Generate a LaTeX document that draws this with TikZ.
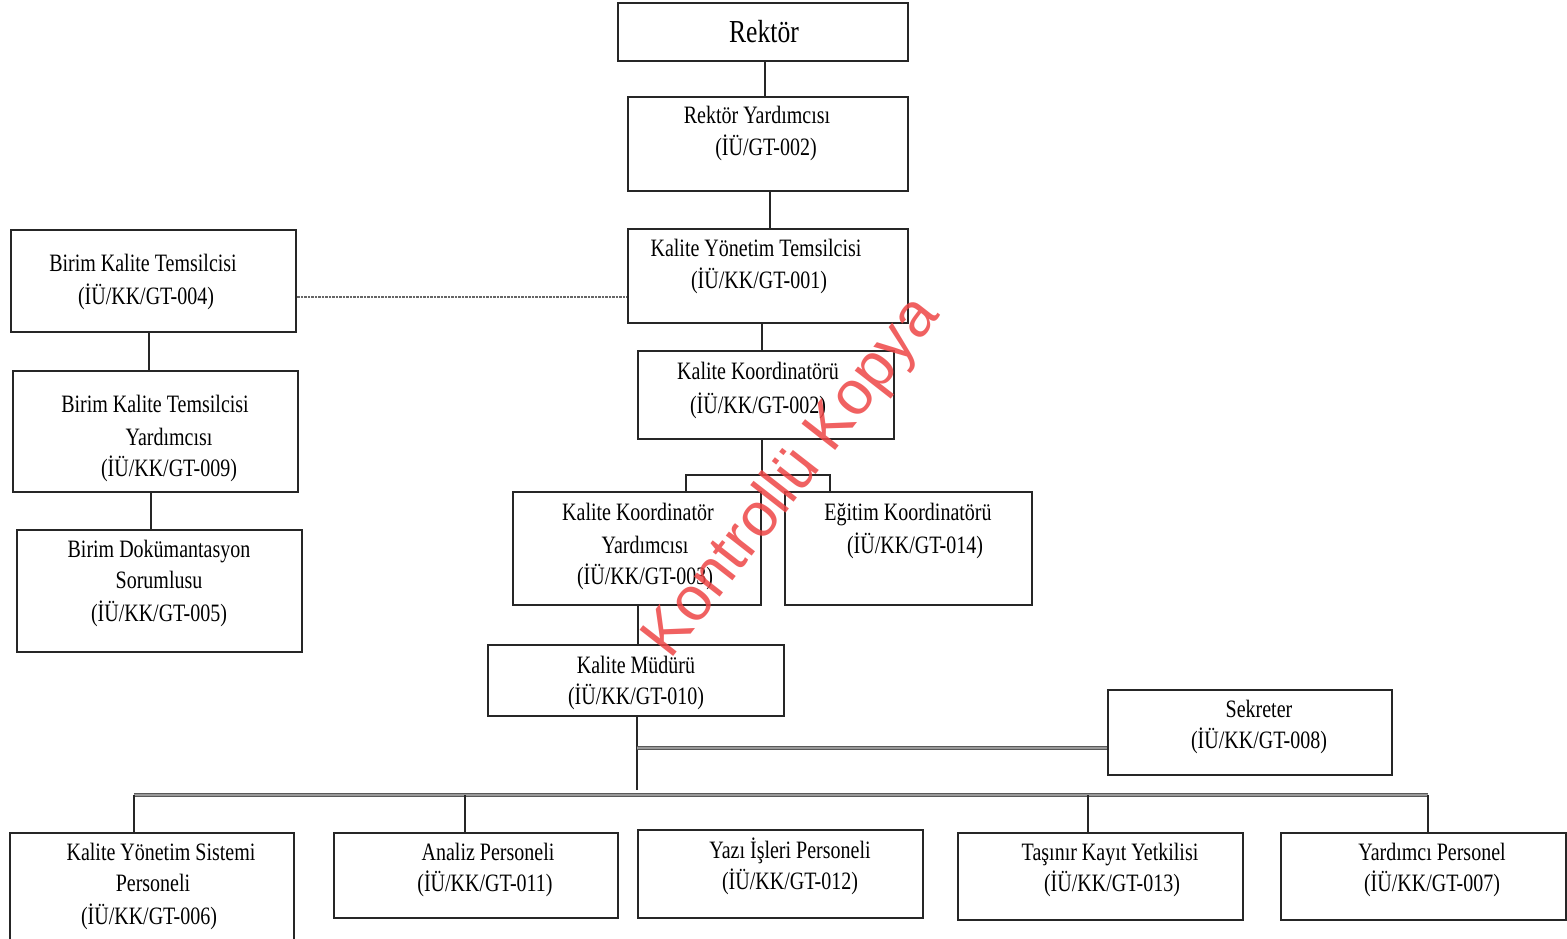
\documentclass[tikz,border=0pt]{standalone}
\usepackage{fontspec}
\setmainfont{Liberation Serif}[FakeStretch=0.8]
\newfontfamily\wmfont{Liberation Sans}
\usetikzlibrary{fit}
\definecolor{wmred}{RGB}{238,70,70}
\tikzset{
  box/.style={draw=black!85, line width=2.6pt, inner sep=0pt, fit={#1}},
  tx/.style={anchor=base, inner sep=0pt, font=\fontsize{25}{30}\selectfont},
  txbig/.style={anchor=base, inner sep=0pt, font=\fontsize{32}{38}\selectfont},
  con/.style={draw=black!85, line width=1.5pt},
  dashcon/.style={draw=black!60, line width=2.6pt, dash pattern=on 2.5pt off 1pt},
  thickcon/.style={draw=black!65, line width=1pt, double=black!40, double distance=2pt},
}
\newcommand\bx[5]{\node[box={(#2,#3) (#4,#5)}] (#1) {};}
\newcommand\tl[4]{\node[tx] (#1) at (#2,#3+8) {#4};}
\begin{document}
\begin{tikzpicture}[x=1pt,y=-1pt]
\useasboundingbox (0,0) rectangle (1567,939);
\fill[white] (0,0) rectangle (1567,939);
% boxes
\bx{rek}{618}{3}{908}{61}
\bx{ry}{628}{97}{908}{191}
\bx{kyt}{628}{229}{908}{323}
\bx{bkt}{11}{230}{296}{332}
\bx{bkty}{13}{371}{298}{492}
\bx{bds}{17}{530}{302}{652}
\bx{kk}{638}{351}{894}{439}
\bx{kky}{513}{492}{761}{605}
\bx{ek}{785}{492}{1032}{605}
\bx{km}{488}{645}{784}{716}
\bx{sek}{1108}{690}{1392}{775}
\bx{kysp}{10}{833}{294}{960}
\bx{ap}{334}{833}{618}{918}
\bx{yip}{638}{830}{923}{918}
\bx{tky}{958}{833}{1243}{920}
\bx{yp}{1281}{833}{1566}{920}
% texts
\node[txbig] (t-rek) at (764,43) {Rektör};
\tl{t-ry1}{757}{116}{Rektör Yardımcısı}
\tl{t-ry2}{766}{148}{(İÜ/GT-002)}
\tl{t-kyt1}{756}{248}{Kalite Yönetim Temsilcisi}
\tl{t-kyt2}{759}{280}{(İÜ/KK/GT-001)}
\tl{t-bkt1}{143}{263}{Birim Kalite Temsilcisi}
\tl{t-bkt2}{146}{296}{(İÜ/KK/GT-004)}
\tl{t-bkty1}{155}{404}{Birim Kalite Temsilcisi}
\tl{t-bkty2}{169}{437}{Yardımcısı}
\tl{t-bkty3}{169}{468}{(İÜ/KK/GT-009)}
\tl{t-bds1}{159}{549}{Birim Dokümantasyon}
\tl{t-bds2}{159}{580}{Sorumlusu}
\tl{t-bds3}{159}{613}{(İÜ/KK/GT-005)}
\tl{t-kk1}{758}{371}{Kalite Koordinatörü}
\tl{t-kk2}{758}{405}{(İÜ/KK/GT-002)}
\tl{t-kky1}{638}{512}{Kalite Koordinatör}
\tl{t-kky2}{645}{545}{Yardımcısı}
\tl{t-kky3}{645}{576}{(İÜ/KK/GT-003)}
\tl{t-ek1}{908}{512}{Eğitim Koordinatörü}
\tl{t-ek2}{915}{545}{(İÜ/KK/GT-014)}
\tl{t-km1}{636}{665}{Kalite Müdürü}
\tl{t-km2}{636}{696}{(İÜ/KK/GT-010)}
\tl{t-sek1}{1259}{709}{Sekreter}
\tl{t-sek2}{1259}{740}{(İÜ/KK/GT-008)}
\tl{t-kysp1}{161}{852}{Kalite Yönetim Sistemi}
\tl{t-kysp2}{153}{883}{Personeli}
\tl{t-kysp3}{149}{916}{(İÜ/KK/GT-006)}
\tl{t-ap1}{488}{852}{Analiz Personeli}
\tl{t-ap2}{485}{883}{(İÜ/KK/GT-011)}
\tl{t-yip1}{790}{850}{Yazı İşleri Personeli}
\tl{t-yip2}{790}{881}{(İÜ/KK/GT-012)}
\tl{t-tky1}{1110}{852}{Taşınır Kayıt Yetkilisi}
\tl{t-tky2}{1112}{883}{(İÜ/KK/GT-013)}
\tl{t-yp1}{1432}{852}{Yardımcı Personel}
\tl{t-yp2}{1432}{883}{(İÜ/KK/GT-007)}
% connectors
\coordinate (br) at (762,475);
\coordinate (kmend) at (637,790);
\coordinate (busL) at (134,795);
\coordinate (busR) at (1428,795);
\draw[con] (765,0 |- rek.south) -- (765,0 |- ry.north);
\draw[con] (770,0 |- ry.south) -- (770,0 |- kyt.north);
\draw[dashcon] (bkt.east |- 0,297) -- (kyt.west |- 0,297);
\draw[con] (149,0 |- bkt.south) -- (149,0 |- bkty.north);
\draw[con] (151,0 |- bkty.south) -- (151,0 |- bds.north);
\draw[con] (762,0 |- kyt.south) -- (762,0 |- kk.north);
\draw[con] (762,0 |- kk.south) -- (br);
\draw[con] (686,0 |- kky.north) -- (686,0 |- br) -- (830,0 |- br) -- (830,0 |- ek.north);
\draw[con] (638,0 |- kky.south) -- (638,0 |- km.north);
\draw[con] (637,0 |- km.south) -- (kmend);
\draw[thickcon] (637,748) -- (sek.west |- 0,748);
\draw[thickcon] (busL) -- (busR);
\draw[con] (busL) -- (busL |- kysp.north);
\draw[con] (465,795) -- (465,0 |- ap.north);
\draw[con] (1088,795) -- (1088,0 |- tky.north);
\draw[con] (busR) -- (busR |- yp.north);
% watermark
\node[rotate=52, text=wmred, opacity=0.85, inner sep=0pt, font=\wmfont\fontsize{62}{64}\selectfont] (wm) at (793,478) {Kontrollü Kopya};
\end{tikzpicture}
\end{document}
